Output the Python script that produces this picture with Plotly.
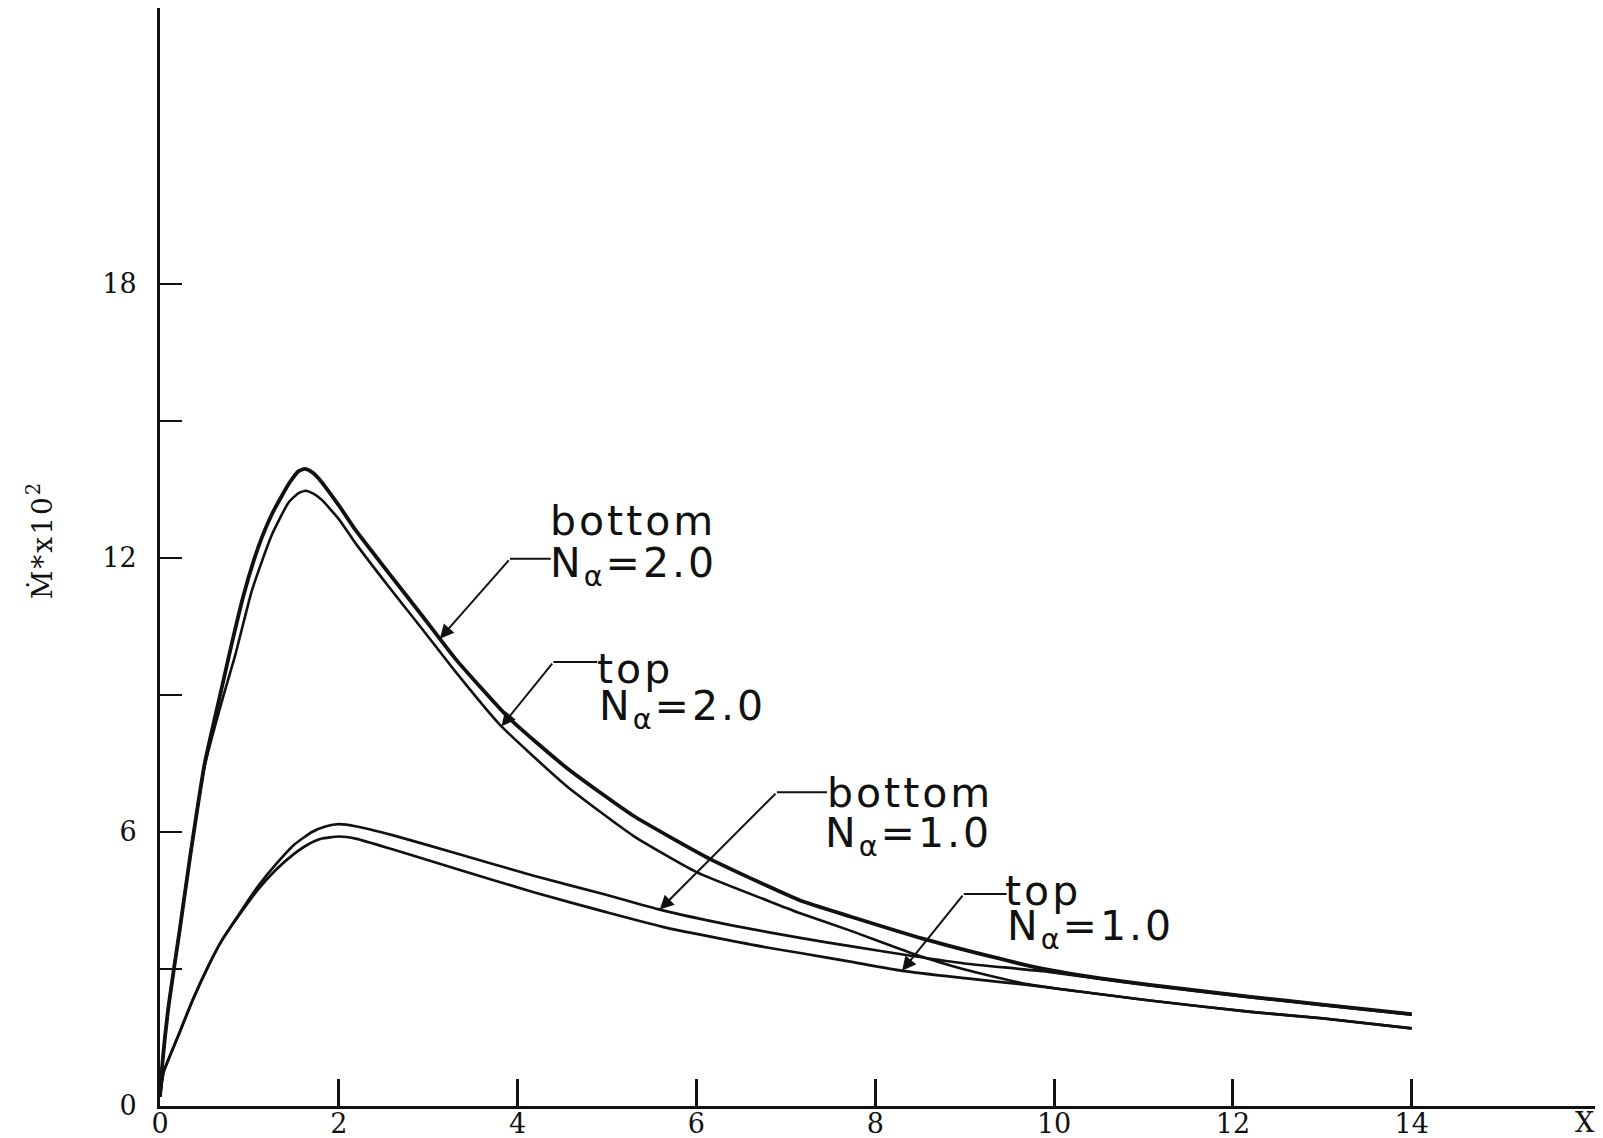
import numpy as np
import plotly.graph_objects as go

# Mass-flux parameter M* x 10^2 along X for the bottom and top surfaces,
# at N_alpha = 2.0 and N_alpha = 1.0

x_bottom_n2 = [0, 0.03, 0.1, 0.22, 0.34, 0.5, 0.69, 0.8, 0.93, 1.05, 1.14, 1.25, 1.36, 1.45,
               1.55, 1.62, 1.7, 1.77, 2.0, 2.18, 2.55, 2.93, 3.3, 3.9, 4.55, 5.29, 6.15, 6.79,
               7.16, 7.72, 8.54, 9.3, 9.88, 10.5, 11.07, 12.2, 13.0, 14.0]
m_bottom_n2 = [0.2, 1.0, 2.25, 3.85, 5.5, 7.5, 9.15, 10.1, 11.15, 11.95, 12.45, 12.95, 13.35, 13.65,
               13.9, 13.95, 13.88, 13.75, 13.15, 12.63, 11.69, 10.74, 9.8, 8.5, 7.4, 6.36, 5.41, 4.82,
               4.5, 4.15, 3.66, 3.27, 3.0, 2.8, 2.65, 2.39, 2.22, 2.01]

x_top_n2 = [0, 0.03, 0.1, 0.22, 0.34, 0.5, 0.69, 0.84, 1.03, 1.25, 1.44, 1.55, 1.63, 1.72,
            1.81, 2.0, 2.18, 2.55, 2.93, 3.3, 3.8, 4.55, 5.29, 6.0, 6.79, 7.16, 7.72, 8.43,
            9.0, 9.7, 11.07, 12.2, 13.0, 14.0]
m_top_n2 = [0.2, 1.0, 2.25, 3.85, 5.5, 7.45, 8.85, 9.86, 11.3, 12.5, 13.22, 13.42, 13.47, 13.4,
            13.27, 12.85, 12.34, 11.39, 10.45, 9.52, 8.35, 7.0, 5.92, 5.12, 4.5, 4.22, 3.84, 3.33,
            2.99, 2.67, 2.31, 2.06, 1.92, 1.70]

x_bottom_n1 = [0, 0.04, 0.19, 0.37, 0.55, 0.69, 0.9, 1.1, 1.3, 1.5, 1.7, 1.85, 2.0, 2.2, 2.6,
               3.3, 4.18, 5.0, 5.59, 6.41, 7.16, 7.72, 8.4, 9.0, 9.88, 10.5, 11.07, 12.2,
               13.0, 14.0]
m_bottom_n1 = [0.2, 0.74, 1.47, 2.34, 3.1, 3.62, 4.25, 4.82, 5.3, 5.72, 6.0, 6.12, 6.17, 6.12, 5.93,
               5.54, 5.04, 4.62, 4.3, 3.95, 3.68, 3.5, 3.29, 3.12, 2.95, 2.79, 2.64, 2.38,
               2.21, 2.0]

x_top_n1 = [0, 0.04, 0.19, 0.37, 0.55, 0.69, 0.9, 1.1, 1.3, 1.5, 1.65, 1.8, 2.0, 2.2, 2.6,
            3.3, 4.18, 5.0, 5.67, 6.79, 7.16, 7.72, 8.3, 9.0, 9.7, 11.07, 12.2, 13.0, 14.0]
m_top_n1 = [0.2, 0.74, 1.47, 2.34, 3.1, 3.62, 4.22, 4.75, 5.18, 5.52, 5.72, 5.85, 5.9, 5.85, 5.62,
            5.2, 4.68, 4.24, 3.9, 3.47, 3.35, 3.16, 2.96, 2.8, 2.65, 2.31, 2.06, 1.92, 1.70]

x_tick_values = [0, 2, 4, 6, 8, 10, 12, 14]
x_tick_labels = ["0", "2", "4", "6", "8", "10", "12", "14"]
y_tick_values = [0, 3, 6, 9, 12, 15, 18]
y_tick_labels = ["0", "", "6", "", "12", "", "18"]

surfaces = ["bottom", "top", "bottom", "top"]
n_alpha = ["2.0", "2.0", "1.0", "1.0"]

curves = {
    "bottom_n2": (x_bottom_n2, m_bottom_n2),
    "top_n2": (x_top_n2, m_top_n2),
    "bottom_n1": (x_bottom_n1, m_bottom_n1),
    "top_n1": (x_top_n1, m_top_n1),
}
line_widths = {"top_n1": 2.7, "bottom_n1": 2.7, "top_n2": 2.6, "bottom_n2": 3.8}
INK = "#111111"

# callout layout: curve, arrow tip x, elbow of the leader, end of the horizontal hook,
# anchor of the surface word and of the N_alpha line (data units)
callouts = [
    dict(curve="bottom_n2", tip_x=3.13, elbow=(3.915, 11.98), hook_end=4.37,
         word_at=(4.34, 13.38), n_at=(4.34, 12.46)),
    dict(curve="top_n2", tip_x=3.82, elbow=(4.40, 9.72), hook_end=4.89,
         word_at=(4.87, 10.14), n_at=(4.89, 9.33)),
    dict(curve="bottom_n1", tip_x=5.59, elbow=(6.90, 6.87), hook_end=7.46,
         word_at=(7.44, 7.42), n_at=(7.42, 6.55)),
    dict(curve="top_n1", tip_x=8.30, elbow=(8.99, 4.64), hook_end=9.47,
         word_at=(9.43, 5.27), n_at=(9.45, 4.50)),
]

fig = go.Figure()
for key in ["top_n1", "bottom_n1", "top_n2", "bottom_n2"]:
    xs, ys = curves[key]
    fig.add_trace(go.Scatter(x=xs, y=ys, mode="lines", name=key,
                             line=dict(color=INK, width=line_widths[key], shape="spline",
                                       smoothing=0.5),
                             hoverinfo="skip", showlegend=False))

label_font = dict(family="DejaVu Sans", size=41, color=INK)
spaced = '<span style="letter-spacing:3px">{}</span>'
annotations = []
shapes = []
for spec, surface, n_val in zip(callouts, surfaces, n_alpha):
    xs, ys = curves[spec["curve"]]
    tip_y = float(np.interp(spec["tip_x"], xs, ys))
    ex, ey = spec["elbow"]
    annotations.append(dict(x=spec["tip_x"], y=tip_y, ax=ex, ay=ey, xref="x", yref="y",
                            axref="x", ayref="y", text="", showarrow=True, arrowhead=2,
                            arrowsize=1.4, arrowwidth=2, arrowcolor=INK, standoff=0))
    shapes.append(dict(type="line", xref="x", yref="y", x0=ex, y0=ey, x1=spec["hook_end"],
                       y1=ey, line=dict(color=INK, width=2)))
    wx, wy = spec["word_at"]
    annotations.append(dict(x=wx, y=wy, xref="x", yref="y", xanchor="left", yanchor="top",
                            text=spaced.format(surface), showarrow=False, font=label_font))
    nx, ny = spec["n_at"]
    annotations.append(dict(x=nx, y=ny, xref="x", yref="y", xanchor="left", yanchor="top",
                            text=spaced.format("N<sub>α</sub>=" + n_val), showarrow=False,
                            font=label_font))

tick_font = dict(family="DejaVu Serif", size=27, color=INK)
annotations.append(dict(x=-0.083, y=0.516, xref="paper", yref="paper", xanchor="center",
                        yanchor="middle", textangle=-90,
                        text='<span style="letter-spacing:2px">Ṁ*x10<sup>2</sup></span>',
                        showarrow=False,
                        font=dict(family="DejaVu Serif", size=28, color=INK)))
annotations.append(dict(x=0.993, y=0, xref="paper", yref="paper", xanchor="center",
                        yanchor="middle", yshift=-16, text="X", showarrow=False,
                        font=tick_font))

fig.update_layout(
    width=1603, height=1138,
    margin=dict(l=160, r=8, t=8, b=32),
    paper_bgcolor="white", plot_bgcolor="white",
    annotations=annotations, shapes=shapes,
    xaxis=dict(range=[0, 16.05], showgrid=False, zeroline=False, showline=True,
               linecolor=INK, linewidth=3, ticks="inside", ticklen=27, tickwidth=3,
               tickcolor=INK, tickvals=x_tick_values, ticktext=x_tick_labels,
               tickfont=tick_font, ticklabelstandoff=-8, automargin=False),
    yaxis=dict(range=[0, 24.04], showgrid=False, zeroline=False, showline=True,
               linecolor=INK, linewidth=3, ticks="inside", ticklen=22, tickwidth=2,
               tickcolor=INK, tickvals=y_tick_values, ticktext=y_tick_labels,
               tickfont=tick_font, ticklabelstandoff=15, automargin=False),
)

fig.write_html("out.html")
